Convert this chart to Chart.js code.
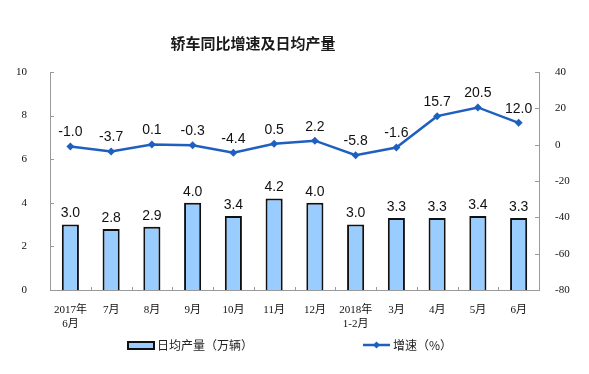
<!DOCTYPE html>
<html>
<head>
<meta charset="utf-8">
<script src="https://cdn.jsdelivr.net/npm/chart.js@4/dist/chart.umd.min.js"></script>
<style>
  html, body { margin: 0; padding: 0; background: #fff; }
  #wrap { width: 589px; height: 374px; position: relative; }
</style>
</head>
<body>
<div id="wrap"><canvas id="chart"></canvas></div>
<script>
// 轿车同比增速及日均产量
const title = '轿车同比增速及日均产量';
const categories = [['2017年', '6月'], '7月', '8月', '9月', '10月', '11月', '12月',
  ['2018年', '1-2月'], '3月', '4月', '5月', '6月'];
const dailyOutput = [3.0, 2.8, 2.9, 4.0, 3.4, 4.2, 4.0, 3.0, 3.3, 3.3, 3.4, 3.3];
const growthRate = [-1.0, -3.7, 0.1, -0.3, -4.4, 0.5, 2.2, -5.8, -1.6, 15.7, 20.5, 12.0];
const outputLabel = '日均产量（万辆）';
const growthLabel = '增速（%）';

const LINE_BLUE = '#1f5fbf';
const BAR_FILL = '#99ccff';
const AXIS_GREY = '#9a9a9a';
const tickFont = { family: '"Liberation Serif", "Noto Sans CJK SC"', size: 11 };

// value labels above bars and points
const valueLabels = {
  id: 'valueLabels',
  afterDatasetsDraw(chart) {
    const ctx = chart.ctx;
    ctx.save();
    ctx.font = '14px "Liberation Sans", Arial, sans-serif';
    ctx.fillStyle = '#111';
    ctx.textAlign = 'center';
    ctx.textBaseline = 'middle';
    chart.data.datasets.forEach((ds, i) => {
      const meta = chart.getDatasetMeta(i);
      const gap = ds.type === 'line' ? 14 : 11;
      meta.data.forEach((el, j) => {
        ctx.fillText(ds.data[j].toFixed(1), el.x, el.y - gap);
      });
    });
    ctx.restore();
  }
};

// title, small inward tick marks and the legend
const decorations = {
  id: 'decorations',
  afterDraw(chart) {
    const ctx = chart.ctx;
    const area = chart.chartArea;
    const { x, y, y1 } = chart.scales;
    ctx.save();

    ctx.font = 'bold 15px "Noto Sans CJK SC", sans-serif';
    ctx.fillStyle = '#1a1a1a';
    ctx.textAlign = 'center';
    ctx.textBaseline = 'middle';
    ctx.fillText(title, 253, 43);

    ctx.strokeStyle = AXIS_GREY;
    ctx.lineWidth = 1;
    ctx.beginPath();
    y.ticks.forEach((t, i) => {
      const py = Math.round(y.getPixelForTick(i)) + 0.5;
      ctx.moveTo(area.left, py);
      ctx.lineTo(area.left + 4, py);
    });
    y1.ticks.forEach((t, i) => {
      const py = Math.round(y1.getPixelForTick(i)) + 0.5;
      ctx.moveTo(area.right, py);
      ctx.lineTo(area.right - 4, py);
    });
    const step = (area.right - area.left) / categories.length;
    for (let i = 1; i < categories.length; i++) {
      const px = Math.round(x.getPixelForValue(i) - step / 2) + 0.5;
      ctx.moveTo(px, area.bottom);
      ctx.lineTo(px, area.bottom - 3);
    }
    ctx.stroke();

    // legend
    const ly = 345;
    ctx.fillStyle = BAR_FILL;
    ctx.strokeStyle = '#111';
    ctx.lineWidth = 2;
    ctx.fillRect(128, ly - 3, 26, 7);
    ctx.strokeRect(128, ly - 3, 26, 7);

    ctx.strokeStyle = LINE_BLUE;
    ctx.lineWidth = 2.5;
    ctx.beginPath();
    ctx.moveTo(363, ly);
    ctx.lineTo(390, ly);
    ctx.stroke();
    ctx.fillStyle = LINE_BLUE;
    ctx.beginPath();
    ctx.moveTo(376.5, ly - 3.5);
    ctx.lineTo(380, ly);
    ctx.lineTo(376.5, ly + 3.5);
    ctx.lineTo(373, ly);
    ctx.closePath();
    ctx.fill();

    ctx.font = '12px "Noto Sans CJK SC", sans-serif';
    ctx.fillStyle = '#222';
    ctx.textAlign = 'left';
    ctx.fillText(outputLabel, 157, ly);
    ctx.fillText(growthLabel, 393, ly);
    ctx.restore();
  }
};

new Chart(document.getElementById('chart'), {
  data: {
    labels: categories,
    datasets: [
      {
        type: 'line',
        label: growthLabel,
        data: growthRate,
        yAxisID: 'y1',
        borderColor: LINE_BLUE,
        backgroundColor: LINE_BLUE,
        borderWidth: 2.5,
        pointStyle: 'rectRot',
        pointRadius: 4,
        pointBorderWidth: 0,
        tension: 0,
        order: 1
      },
      {
        type: 'bar',
        label: outputLabel,
        data: dailyOutput,
        yAxisID: 'y',
        backgroundColor: BAR_FILL,
        borderColor: '#111',
        borderWidth: 2,
        barPercentage: 0.42,
        categoryPercentage: 1,
        order: 2
      }
    ]
  },
  options: {
    responsive: true,
    maintainAspectRatio: false,
    animation: false,
    layout: {
      padding: { top: 72, bottom: 0, left: 0, right: 0 }
    },
    plugins: {
      legend: { display: false },
      title: { display: false },
      tooltip: { enabled: false }
    },
    scales: {
      x: {
        offset: true,
        grid: { display: false },
        border: { color: AXIS_GREY, width: 1 },
        ticks: {
          font: tickFont,
          color: '#111',
          padding: 6,
          maxRotation: 0,
          autoSkip: false
        },
        afterFit: (scale) => { scale.height = 84; }
      },
      y: {
        position: 'left',
        min: 0,
        max: 10,
        grid: { display: false },
        border: { color: AXIS_GREY, width: 1 },
        ticks: { stepSize: 2, font: tickFont, color: '#111', padding: 15 },
        afterFit: (scale) => { scale.width = 50; }
      },
      y1: {
        position: 'right',
        min: -80,
        max: 40,
        grid: { display: false },
        border: { color: AXIS_GREY, width: 1 },
        ticks: { stepSize: 20, font: tickFont, color: '#111', padding: 8 },
        afterFit: (scale) => { scale.width = 50; }
      }
    }
  },
  plugins: [valueLabels, decorations]
});
</script>
</body>
</html>
